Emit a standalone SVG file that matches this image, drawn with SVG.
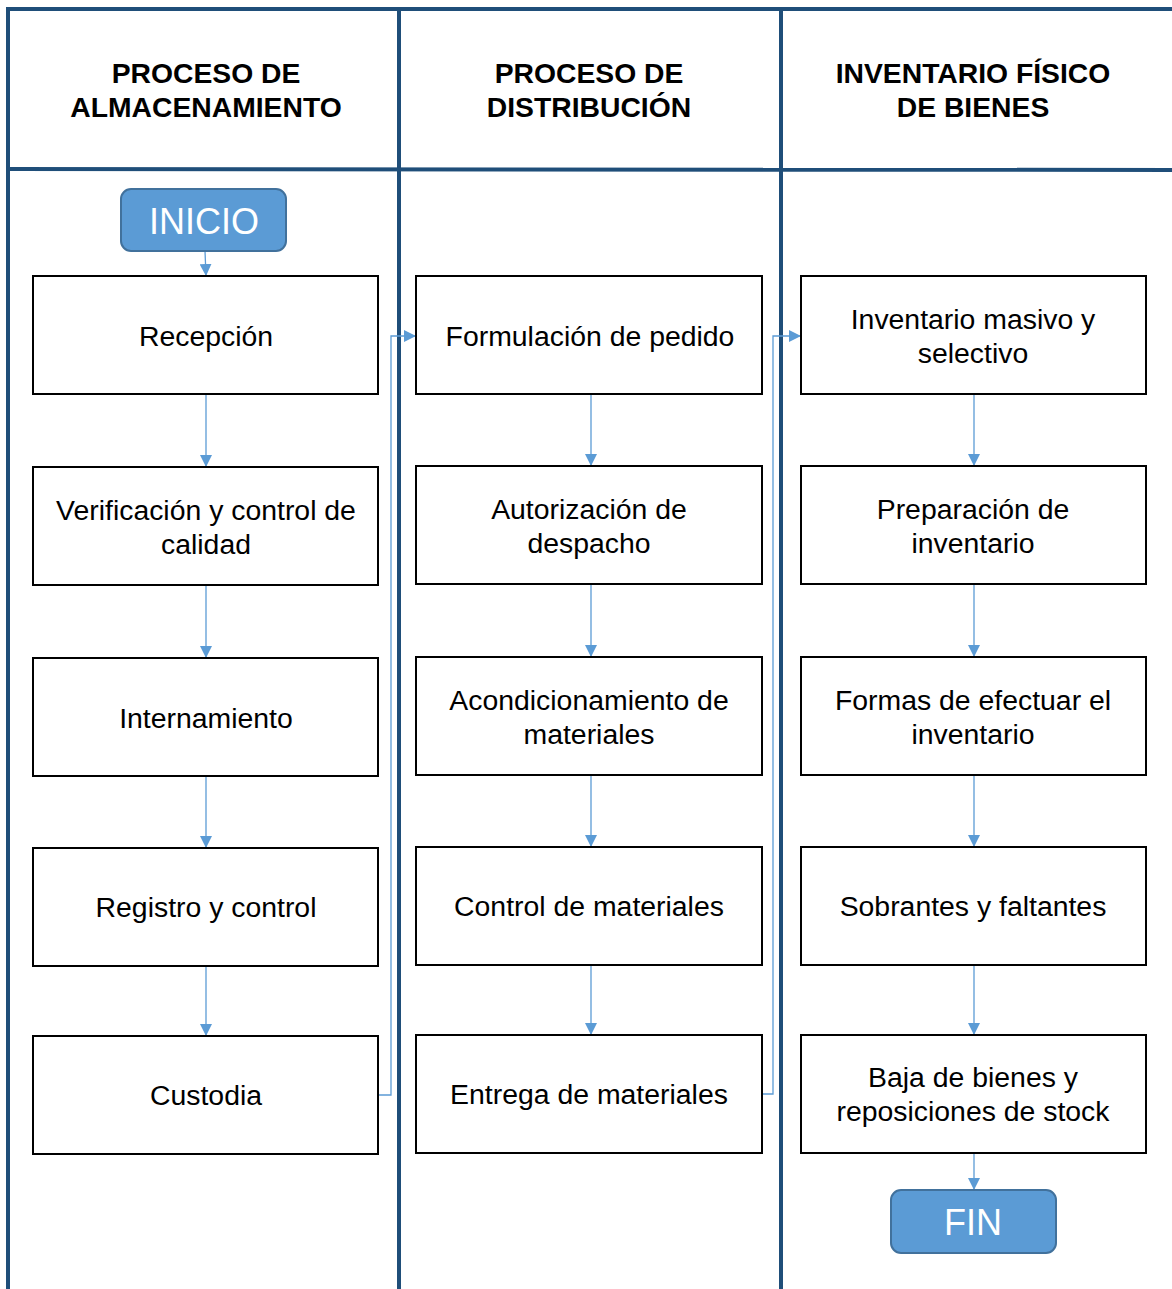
<svg xmlns="http://www.w3.org/2000/svg" width="1172" height="1289" viewBox="0 0 1172 1289">
<style>
.lane{stroke:#1F4E79;stroke-width:4;fill:none}
.hdr{font-family:"Liberation Sans",Arial,sans-serif;font-weight:bold;font-size:28.3px;fill:#000;text-anchor:middle}
.box{fill:#fff;stroke:#000;stroke-width:2}
.txt{font-family:"Liberation Sans",Arial,sans-serif;font-size:28.4px;fill:#000;text-anchor:middle}
.term{fill:#5B9BD5;stroke:#41719C;stroke-width:2}
.ttxt{font-family:"Liberation Sans",Arial,sans-serif;font-size:36px;fill:#fff;text-anchor:middle}
.con{stroke:#5B9BD5;stroke-width:1.3;fill:none;marker-end:url(#ah)}
</style>
<defs>
<marker id="ah" viewBox="0 0 12 12" refX="12" refY="6" markerWidth="12" markerHeight="12" markerUnits="userSpaceOnUse" orient="auto">
<path d="M0,0 L12,6 L0,12 Z" fill="#5B9BD5"/>
</marker>
</defs>
<rect width="1172" height="1289" fill="#fff"/>
<g id="lanes">
<line class="lane" x1="6" y1="9" x2="1172" y2="9"/>
<line class="lane" x1="8" y1="7" x2="8" y2="1289"/>
<line class="lane" x1="399" y1="7" x2="399" y2="1289"/>
<line class="lane" x1="781" y1="7" x2="781" y2="1289"/>
<line class="lane" x1="8" y1="169" x2="1172" y2="170"/>
<text class="hdr" x="206" y="83">PROCESO DE</text>
<text class="hdr" x="206" y="117">ALMACENAMIENTO</text>
<text class="hdr" x="589" y="83">PROCESO DE</text>
<text class="hdr" x="589" y="117">DISTRIBUCIÓN</text>
<text class="hdr" x="973" y="83">INVENTARIO FÍSICO</text>
<text class="hdr" x="973" y="117">DE BIENES</text>
</g>
<g id="connectors">
<line class="con" x1="205" y1="251" x2="206" y2="276"/>
<line class="con" x1="206" y1="394" x2="206" y2="467"/>
<line class="con" x1="206" y1="585" x2="206" y2="658"/>
<line class="con" x1="206" y1="776" x2="206" y2="848"/>
<line class="con" x1="206" y1="966" x2="206" y2="1036"/>
<polyline class="con" points="378,1095 391,1095 391,336 416,336"/>
<line class="con" x1="591" y1="394" x2="591" y2="466"/>
<line class="con" x1="591" y1="584" x2="591" y2="657"/>
<line class="con" x1="591" y1="775" x2="591" y2="847"/>
<line class="con" x1="591" y1="965" x2="591" y2="1035"/>
<polyline class="con" points="762,1094 773,1094 773,336 801,336"/>
<line class="con" x1="974" y1="394" x2="974" y2="466"/>
<line class="con" x1="974" y1="584" x2="974" y2="657"/>
<line class="con" x1="974" y1="775" x2="974" y2="847"/>
<line class="con" x1="974" y1="965" x2="974" y2="1035"/>
<line class="con" x1="974" y1="1153" x2="974" y2="1190"/>
</g>
<g id="inicio"><rect class="term" x="121" y="189" width="165" height="62" rx="10"/><text class="ttxt" x="204" y="234">INICIO</text></g>
<g id="recepcion"><rect class="box" x="33" y="276" width="345" height="118"/><text class="txt" x="206" y="346">Recepción</text></g>
<g id="verificacion"><rect class="box" x="33" y="467" width="345" height="118"/><text class="txt" x="206" y="520">Verificación y control de</text><text class="txt" x="206" y="554">calidad</text></g>
<g id="internamiento"><rect class="box" x="33" y="658" width="345" height="118"/><text class="txt" x="206" y="728">Internamiento</text></g>
<g id="registro"><rect class="box" x="33" y="848" width="345" height="118"/><text class="txt" x="206" y="917">Registro y control</text></g>
<g id="custodia"><rect class="box" x="33" y="1036" width="345" height="118"/><text class="txt" x="206" y="1105">Custodia</text></g>
<g id="formulacion"><rect class="box" x="416" y="276" width="346" height="118"/><text class="txt" x="590" y="346">Formulación de pedido</text></g>
<g id="autorizacion"><rect class="box" x="416" y="466" width="346" height="118"/><text class="txt" x="589" y="519">Autorización de</text><text class="txt" x="589" y="553">despacho</text></g>
<g id="acondicionamiento"><rect class="box" x="416" y="657" width="346" height="118"/><text class="txt" x="589" y="710">Acondicionamiento de</text><text class="txt" x="589" y="744">materiales</text></g>
<g id="control"><rect class="box" x="416" y="847" width="346" height="118"/><text class="txt" x="589" y="916">Control de materiales</text></g>
<g id="entrega"><rect class="box" x="416" y="1035" width="346" height="118"/><text class="txt" x="589" y="1104">Entrega de materiales</text></g>
<g id="inventario"><rect class="box" x="801" y="276" width="345" height="118"/><text class="txt" x="973" y="329">Inventario masivo y</text><text class="txt" x="973" y="363">selectivo</text></g>
<g id="preparacion"><rect class="box" x="801" y="466" width="345" height="118"/><text class="txt" x="973" y="519">Preparación de</text><text class="txt" x="973" y="553">inventario</text></g>
<g id="formas"><rect class="box" x="801" y="657" width="345" height="118"/><text class="txt" x="973" y="710">Formas de efectuar el</text><text class="txt" x="973" y="744">inventario</text></g>
<g id="sobrantes"><rect class="box" x="801" y="847" width="345" height="118"/><text class="txt" x="973" y="916">Sobrantes y faltantes</text></g>
<g id="baja"><rect class="box" x="801" y="1035" width="345" height="118"/><text class="txt" x="973" y="1087">Baja de bienes y</text><text class="txt" x="973" y="1121">reposiciones de stock</text></g>
<g id="fin"><rect class="term" x="891" y="1190" width="165" height="63" rx="10"/><text class="ttxt" x="973" y="1235">FIN</text></g>
</svg>
